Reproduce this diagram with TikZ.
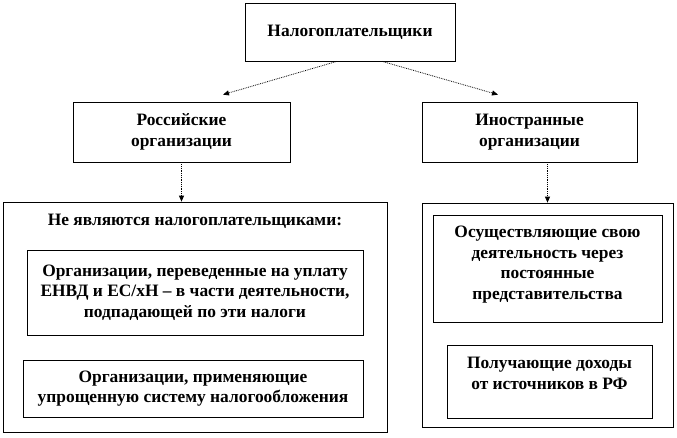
\documentclass[tikz,border=0pt]{standalone}
\usepackage{fontspec}
\setmainfont{Liberation Serif}
\usetikzlibrary{calc, arrows.meta, shadows}

\tikzset{
  box/.style={draw, line width=0.7pt, fill=white, align=center, inner sep=2pt,
    font=\fontsize{17.4}{20.5}\selectfont\bfseries,
    drop shadow={shadow xshift=1.2pt, shadow yshift=-1.2pt, fill=black!45, opacity=1}},
  arr/.style={-{Triangle[length=6pt,width=5pt]}, line width=0.8pt, densely dotted}
}

\begin{document}
\begin{tikzpicture}[x=1pt, y=-1pt]
\useasboundingbox (0,0) rectangle (677,438);
\node [box, minimum width=210, minimum height=58] (payers) at (350,32) {Налогоплательщики};
\node [box, minimum width=217, minimum height=60] (rus) at (181.5,132) {Российские\\организации};
\node [box, minimum width=215, minimum height=60] (foreign) at (529.5,132) {Иностранные\\организации};
\node [box, minimum width=384, minimum height=230] (noorg) at (195,317) {};
\node [font=\fontsize{17.4}{20.5}\selectfont\bfseries] (notitle) at (195,221) {Не являются налогоплательщиками:};
\node [box, minimum width=336, minimum height=85] (envd) at (195,292.5) {Организации, переведенные на уплату\\ЕНВД и ЕС/хН -- в части деятельности,\\подпадающей по эти налоги};
\node [box, minimum width=340, minimum height=57] (usn) at (193,388.5) {Организации, применяющие\\упрощенную систему налогообложения};
\node [box, minimum width=251, minimum height=224] (forin) at (547.5,315) {};
\node [box, minimum width=229, minimum height=107, text depth=12pt] (perm) at (547.5,268.5) {Осуществляющие свою\\деятельность через\\постоянные\\представительства};
\node [box, minimum width=205, minimum height=73, text depth=16pt] (income) at (549.5,381.5) {Получающие доходы\\от источников в РФ};
\draw [arr] ($(payers.south)+(-13,0)$) -- ($(rus.north)+(41.5,-7)$);
\draw [arr] ($(payers.south)+(32,0)$) -- ($(foreign.north)+(-31.5,-7)$);
\draw [arr] (rus.south) -- (rus.south |- noorg.north);
\draw [arr] (forin.north |- foreign.south) -- (forin.north);
\end{tikzpicture}
\end{document}
